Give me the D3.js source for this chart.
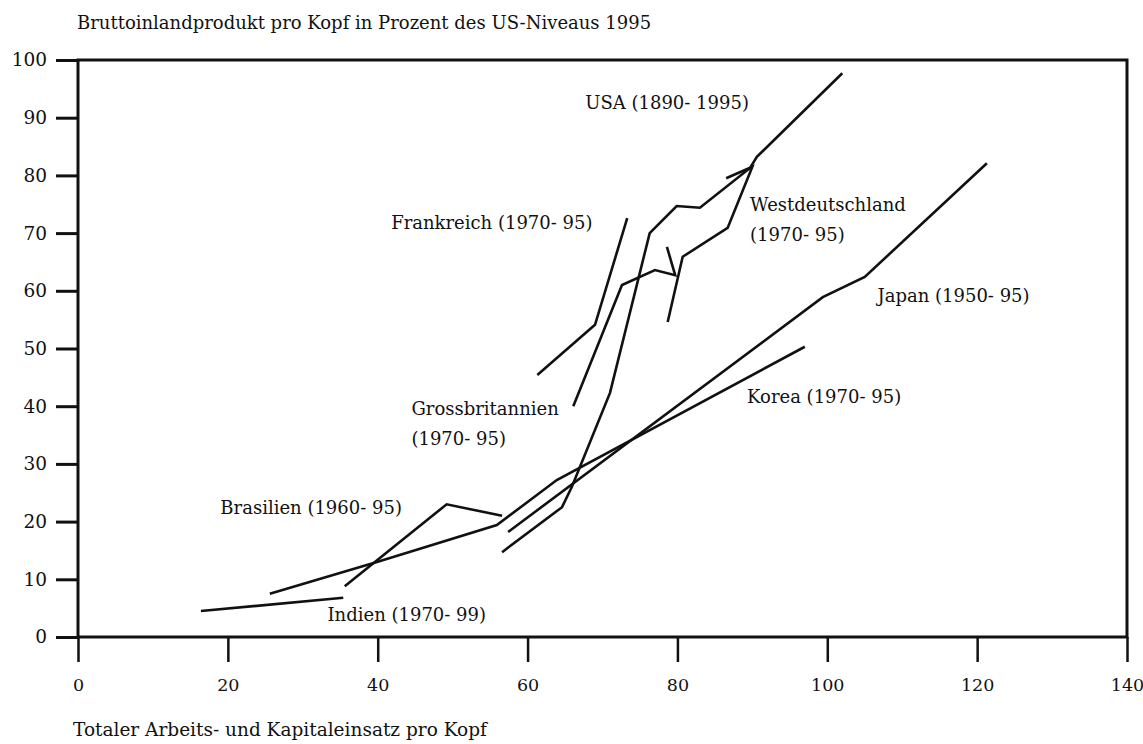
<!DOCTYPE html>
<html>
<head>
<meta charset="utf-8">
<script src="https://cdn.jsdelivr.net/npm/d3@7"></script>
<style>
  html, body { margin: 0; padding: 0; background: #fff; }
  svg text { font-family: "DejaVu Serif", "Liberation Serif", serif; fill: #111; }
</style>
</head>
<body>
<svg id="chart" width="1143" height="744"></svg>
<script>
// ---- Data (x: Totaler Arbeits- und Kapitaleinsatz pro Kopf, y: BIP pro Kopf in % des US-Niveaus 1995)
const xTicks = [0, 20, 40, 60, 80, 100, 120, 140];
const yTicks = [0, 10, 20, 30, 40, 50, 60, 70, 80, 90, 100];

const indien      = [[16.4, 4.5], [35.4, 6.8]];
const korea       = [[25.6, 7.5], [39.9, 13.0], [55.9, 19.4], [63.9, 27.2], [97.0, 50.3]];
const brasilien   = [[35.6, 8.8], [49.2, 23.0], [56.6, 21.0]];
const japan       = [[57.4, 18.2], [99.4, 58.9], [105.0, 62.4], [121.3, 82.1]];
const usa         = [[56.6, 14.7], [64.6, 22.5], [65.9, 26.0], [71.0, 42.3], [76.3, 70.0], [79.9, 74.7], [83.0, 74.4], [89.7, 81.3], [90.6, 83.2], [102.0, 97.7]];
const frankreich  = [[61.3, 45.4], [69.0, 54.1], [73.3, 72.6]];
const grossbrit   = [[66.1, 40.0], [72.6, 61.0], [77.0, 63.6], [79.7, 62.7], [78.6, 67.6]];
const westdeutsch = [[78.7, 54.6], [80.7, 65.9], [86.7, 70.9], [90.0, 81.5], [86.5, 79.5]];

const seriesList = [indien, korea, brasilien, japan, usa, frankreich, grossbrit, westdeutsch];

// labels: [text lines, x (data), y (data) of first baseline]
const labels = [
  [["USA (1890- 1995)"], 67.7, 91.5],
  [["Frankreich (1970- 95)"], 41.8, 70.7],
  [["Westdeutschland", "(1970- 95)"], 89.7, 73.8],
  [["Japan (1950- 95)"], 106.7, 58.0],
  [["Grossbritannien", "(1970- 95)"], 44.5, 38.4],
  [["Korea (1970- 95)"], 89.3, 40.5],
  [["Brasilien (1960- 95)"], 19.0, 21.3],
  [["Indien (1970- 99)"], 33.3, 2.7]
];

const yTitle = "Bruttoinlandprodukt pro Kopf in Prozent des US-Niveaus 1995";
const xTitle = "Totaler Arbeits- und Kapitaleinsatz pro Kopf";

// ---- Layout
const svg = d3.select("#chart");
const mLeft = 78, mRight = 1127, mTop = 60, mBottom = 637;

const x = d3.scaleLinear().domain([0, 140]).range([mLeft, mRight]);
const y = d3.scaleLinear().domain([0, 100]).range([mBottom, mTop]);

// Y axis ticks (to the left)
const yAxis = d3.axisLeft(y).tickValues(yTicks).tickSize(22).tickPadding(9).tickFormat(d3.format("d"));
const gy = svg.append("g").attr("transform", `translate(${mLeft},0)`).call(yAxis);
gy.select(".domain").remove();
gy.attr("font-size", null).attr("font-family", null);
gy.selectAll(".tick line").attr("stroke", "#111").attr("stroke-width", 3);
gy.selectAll(".tick text").style("font-size", "18.5px").attr("fill", "#111");

// X axis ticks (downward)
const xAxis = d3.axisBottom(x).tickValues(xTicks).tickSize(25).tickPadding(17).tickFormat(d3.format("d"));
const gx = svg.append("g").attr("transform", `translate(0,${mBottom})`).call(xAxis);
gx.select(".domain").remove();
gx.attr("font-size", null).attr("font-family", null);
gx.selectAll(".tick line").attr("stroke", "#111").attr("stroke-width", 2.5);
gx.selectAll(".tick text").style("font-size", "17.5px").attr("fill", "#111");

// Frame
svg.append("rect")
  .attr("x", mLeft).attr("y", mTop)
  .attr("width", mRight - mLeft).attr("height", mBottom - mTop)
  .attr("fill", "none").attr("stroke", "#111").attr("stroke-width", 3);

// Lines
const line = d3.line().x(d => x(d[0])).y(d => y(d[1]));
svg.append("g").selectAll("path").data(seriesList).join("path")
  .attr("d", line)
  .attr("fill", "none")
  .attr("stroke", "#111")
  .attr("stroke-width", 2.6)
  .attr("stroke-linejoin", "miter")
  .attr("stroke-linecap", "butt");

// Labels
const lg = svg.append("g");
labels.forEach(([lines, lx, ly]) => {
  const t = lg.append("text").attr("x", x(lx)).attr("y", y(ly)).style("font-size", "18px");
  lines.forEach((s, i) => {
    t.append("tspan").attr("x", x(lx)).attr("dy", i === 0 ? 0 : 30).text(s);
  });
});

// Titles
svg.append("text").attr("x", 77).attr("y", 29).style("font-size", "18px").text(yTitle);
svg.append("text").attr("x", 73).attr("y", 736).style("font-size", "18.5px").text(xTitle);
</script>
</body>
</html>
